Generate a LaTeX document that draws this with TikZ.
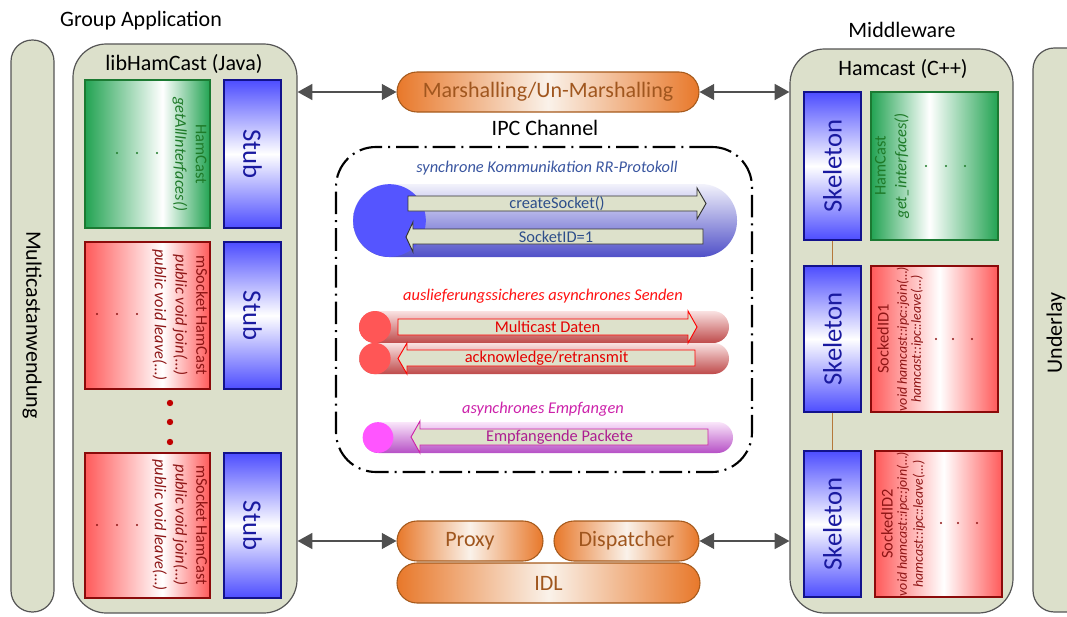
\documentclass[tikz,border=0pt]{standalone}
\usepackage{fontspec}
\setmainfont{Carlito}
\usetikzlibrary{arrows.meta,fit}

% palette
\definecolor{panelfill}{HTML}{DCE0CB}
\definecolor{panelline}{HTML}{555555}
\definecolor{stubblue}{HTML}{4D4DFF}
\definecolor{stubline}{HTML}{12128C}
\definecolor{stubtext}{HTML}{1A1AA0}
\definecolor{grn}{HTML}{22A352}
\definecolor{grnline}{HTML}{1B7A32}
\definecolor{grntext}{HTML}{1E7A28}
\definecolor{rd}{HTML}{FF5A5A}
\definecolor{rdline}{HTML}{8B0A0A}
\definecolor{rdtext}{HTML}{8E1515}
\definecolor{org}{HTML}{E8782A}
\definecolor{orgmid}{HTML}{FAF2EA}
\definecolor{orgline}{HTML}{A65A1C}
\definecolor{orgtext}{HTML}{A0561E}
\definecolor{tipgray}{HTML}{505050}
\definecolor{linkbrown}{HTML}{B5783A}
\definecolor{msgfill}{HTML}{DDE1CB}
\definecolor{syncblue}{HTML}{3A56A0}
\definecolor{msgblue}{HTML}{2D4E8A}
\definecolor{sendred}{HTML}{FF1010}
\definecolor{recvmag}{HTML}{CC22AA}
\definecolor{pilltopblue}{HTML}{F2F2FB}
\definecolor{pillblue}{HTML}{5050C8}
\definecolor{pilltopred}{HTML}{FAE2E2}
\definecolor{pillred}{HTML}{BE4A4A}
\definecolor{pilltopmag}{HTML}{FAE6FA}
\definecolor{pillmag}{HTML}{B650C6}
\definecolor{dotblue}{HTML}{5555FF}
\definecolor{dotred}{HTML}{FF5656}
\definecolor{dotmag}{HTML}{FF55FF}
\definecolor{bulletred}{HTML}{C00000}

% left-right gradients with the light band off centre
\pgfdeclarehorizontalshading{grnL}{100bp}{color(0bp)=(grn); color(25bp)=(grn); color(56bp)=(white); color(75bp)=(grn); color(100bp)=(grn)}
\pgfdeclarehorizontalshading{grnR}{100bp}{color(0bp)=(grn); color(25bp)=(grn); color(48bp)=(white); color(75bp)=(grn); color(100bp)=(grn)}
\pgfdeclarehorizontalshading{rdL}{100bp}{color(0bp)=(rd); color(25bp)=(rd); color(56bp)=(white); color(75bp)=(rd); color(100bp)=(rd)}
\pgfdeclarehorizontalshading{rdR}{100bp}{color(0bp)=(rd); color(25bp)=(rd); color(52bp)=(white); color(75bp)=(rd); color(100bp)=(rd)}

\newcommand\bigsz{\fontsize{16.5}{20}\selectfont}
\newcommand\midsz{\fontsize{12.3}{15.5}\selectfont}
\newcommand\codesz{\fontsize{10.4}{12.5}\selectfont}
\newcommand\stubsz{\fontsize{20}{24}\selectfont}

\tikzset{
  panel/.style={draw=panelline, fill=panelfill, line width=0.9pt, rounded corners=#1, inner sep=0pt},
  stubbox/.style={draw=stubline, line width=0.9pt, top color=stubblue, bottom color=stubblue, middle color=white, inner sep=0pt},
  grnbox/.style={draw=grnline, line width=0.9pt, shading=#1, inner sep=0pt},
  rdbox/.style={draw=rdline, line width=0.9pt, shading=#1, inner sep=0pt},
  stublbl/.style={text=stubtext, font=\stubsz, inner sep=0pt},
  orgpill/.style={draw=orgline, line width=0.8pt, rounded corners=15pt, left color=org, right color=org, middle color=orgmid, inner sep=0pt},
  orglbl/.style={text=orgtext, font=\bigsz, inner sep=0pt},
  chanpill/.style={rounded corners=#1, inner sep=0pt},
  disc/.style={circle, inner sep=0pt, minimum size=#1},
  link/.style={draw=tipgray, line width=0.9pt, {Triangle[length=11pt,width=12pt]}-{Triangle[length=11pt,width=12pt]}},
  brownlink/.style={draw=linkbrown, line width=1.1pt},
  msgarrow/.style={fill=msgfill, draw=#1, line width=0.7pt},
  msglbl/.style={font=\midsz, inner sep=0pt},
  head/.style={font=\midsz\itshape, inner sep=0pt},
}

\begin{document}
\begin{tikzpicture}[x=0.75pt,y=-0.75pt, font=\bigsz]
\useasboundingbox (0,0) rectangle (1067,617);
\clip (0,0) rectangle (1067,617);

% ---------- outer columns ----------
\node[panel=16pt, fit={(11,40) (54,612)}] (app) {};
\node[rotate=-90, inner sep=0pt] (applbl) at (32,325) {Multicastanwendung};
\node[panel=25pt, fit={(73,44) (297,613)}] (lib) {};
\node[panel=26pt, fit={(790,49) (1013,613)}] (ham) {};
\node[panel=16pt, fit={(1033,48) (1096,612)}] (under) {};
\node[rotate=90, inner sep=0pt] (underlbl) at (1056,333) {Underlay};

\node[inner sep=0pt] (grp) at (141,21) {Group Application};
\node[inner sep=0pt] (mid) at (902,30) {Middleware};
\node[inner sep=0pt] (libttl) at (184,64) {libHamCast (Java)};
\node[inner sep=0pt] (hamttl) at (903,69) {Hamcast (C++)};

% ---------- libHamCast (Java) ----------
\node[grnbox=grnL, fit={(85,80) (210,228)}] (ifA) {};
\node[rotate=-90, text=grntext, font=\midsz, align=center, inner sep=0pt] (ifAlbl) at (189.5,154) {HamCast\\\textit{getAllInterfaces()}};
\foreach \x in {117,137,157} \fill[grntext] (\x,153) circle (0.8pt);
\node[stubbox, fit={(224,80) (281,228)}] (stA) {};
\node[stublbl, rotate=-90] (stAlbl) at (stA.center) {Stub};

\node[rdbox=rdL, fit={(85,242) (210,389)}] (msA) {};
\node[rotate=-90, text=rdtext, font=\midsz, align=center, inner sep=0pt] (msAlbl) at (180,315) {mSocket HamCast\\\textit{public void join(…)}\\\textit{public void leave(…)}};
\foreach \x in {97,117,137} \fill[rdtext] (\x,314) circle (0.8pt);
\node[stubbox, fit={(224,242) (281,389)}] (stB) {};
\node[stublbl, rotate=-90] (stBlbl) at (stB.center) {Stub};

\foreach \y in {403,422,442} \fill[bulletred] (170,\y) circle (2.4pt);

\node[rdbox=rdL, fit={(85,453) (210,598)}] (msB) {};
\node[rotate=-90, text=rdtext, font=\midsz, align=center, inner sep=0pt] (msBlbl) at (180,525) {mSocket HamCast\\\textit{public void join(…)}\\\textit{public void leave(…)}};
\foreach \x in {97,117,137} \fill[rdtext] (\x,525) circle (0.8pt);
\node[stubbox, fit={(224,453) (281,598)}] (stC) {};
\node[stublbl, rotate=-90] (stClbl) at (stC.center) {Stub};

% ---------- Hamcast (C++) ----------
\node[stubbox, fit={(804,92) (861,240)}] (skA) {};
\node[stublbl, rotate=90] (skAlbl) at (skA.center) {Skeleton};
\node[grnbox=grnR, fit={(871,92) (998,240)}] (gi) {};
\node[rotate=90, text=grntext, font=\midsz, align=center, inner sep=0pt] (gilbl) at (892,166) {HamCast\\\textit{get\_interfaces()}};
\foreach \x in {926,946,965} \fill[grntext] (\x,166) circle (0.8pt);

\node[stubbox, fit={(804,266) (861,412)}] (skB) {};
\node[stublbl, rotate=90] (skBlbl) at (skB.center) {Skeleton};
\node[rdbox=rdR, fit={(871,266) (998,412)}] (sdA) {};
\node[rotate=90, text=rdtext, font=\midsz, inner sep=0pt] (sdA1) at (883,339) {SockedID1};
\node[rotate=90, text=rdtext, font=\codesz\itshape, inner sep=0pt] (sdA2) at (903,339) {void hamcast::ipc::join(…)};
\node[rotate=90, text=rdtext, font=\codesz\itshape, inner sep=0pt] (sdA3) at (917,339) {hamcast::ipc::leave(…)};
\foreach \x in {936,953,972} \fill[rdtext] (\x,339) circle (0.8pt);

\node[stubbox, fit={(804,451) (861,597)}] (skC) {};
\node[stublbl, rotate=90] (skClbl) at (skC.center) {Skeleton};
\node[rdbox=rdR, fit={(875,451) (1002,597)}] (sdB) {};
\node[rotate=90, text=rdtext, font=\midsz, inner sep=0pt] (sdB1) at (887,524) {SockedID2};
\node[rotate=90, text=rdtext, font=\codesz\itshape, inner sep=0pt] (sdB2) at (903,524) {void hamcast::ipc::join(…)};
\node[rotate=90, text=rdtext, font=\codesz\itshape, inner sep=0pt] (sdB3) at (919,524) {hamcast::ipc::leave(…)};
\foreach \x in {941,958,977} \fill[rdtext] (\x,523) circle (0.8pt);

\draw[brownlink] (skA.south) -- (skB.north);
\draw[brownlink] (skB.south) -- (skC.north);

% ---------- IPC channel ----------
\node[orgpill, fit={(397,72) (699,112)}] (mar) {};
\node[orglbl] (marlbl) at (mar.center) {Marshalling/Un-Marshalling};
\node[inner sep=0pt] (ipcttl) at (545,128) {IPC Channel};

\node[draw, line width=1.6pt, dash pattern=on 17pt off 4.5pt on 1.5pt off 4.5pt,
      rounded corners=30pt, inner sep=0pt, fit={(336,147) (752,472)}] (ipc) {};

% synchronous request/response
\node[head, text=syncblue] (synchd) at (547,168) {synchrone Kommunikation RR-Protokoll};
\node[chanpill=27pt, top color=pilltopblue, bottom color=pillblue, fit={(353,184) (737,257)}] (syncp) {};
\node[disc=54.5pt, fill=dotblue] (syncd) at (389.5,220.5) {};
\filldraw[msgarrow=black!80] (408,196) -- (697,196) -- (697,188) -- (706,203.5) -- (697,219) -- (697,211) -- (408,211) -- cycle;
\node[msglbl, text=msgblue] (create) at (557,203.5) {createSocket()};
\filldraw[msgarrow=black!80] (703,229) -- (413,229) -- (413,222) -- (406,237) -- (413,252) -- (413,244) -- (703,244) -- cycle;
\node[msglbl, text=msgblue] (sockid) at (556,236.5) {SocketID=1};

% reliable asynchronous sending
\node[head, text=sendred] (sendhd) at (543,296) {auslieferungssicheres asynchrones Senden};
\node[chanpill=12pt, top color=pilltopred, bottom color=pillred, fit={(359,311) (729,343)}] (sendp) {};
\node[chanpill=11.6pt, top color=pilltopred, bottom color=pillred, fit={(359,343) (729,374)}] (ackp) {};
\node[disc=24pt, fill=dotred] (sendd) at (375,327) {};
\node[disc=23.5pt, fill=dotred] (ackd) at (375,358.5) {};
\filldraw[msgarrow=red] (398,319) -- (688,319) -- (688,311) -- (697,327) -- (688,343) -- (688,335) -- (398,335) -- cycle;
\node[msglbl, text=red!90!black] (mcast) at (547.5,327) {Multicast Daten};
\filldraw[msgarrow=red] (695,350) -- (407,350) -- (407,343) -- (398,358.5) -- (407,374) -- (407,366) -- (695,366) -- cycle;
\node[msglbl, text=red!90!black] (ack) at (546.5,358) {acknowledge/retransmit};

% asynchronous receiving
\node[head, text=recvmag] (recvhd) at (543,409) {asynchrones Empfangen};
\node[chanpill=11.6pt, top color=pilltopmag, bottom color=pillmag, fit={(363,422) (733,453)}] (recvp) {};
\node[disc=23pt, fill=dotmag] (recvd) at (378,437.5) {};
\filldraw[msgarrow=recvmag] (708,429) -- (420,429) -- (420,421) -- (411,437) -- (420,453) -- (420,445) -- (708,445) -- cycle;
\node[msglbl, text=recvmag!85!black] (recv) at (559.5,437) {Empfangende Packete};

% proxy / dispatcher / IDL
\node[orgpill, fit={(397,521) (543,561)}] (prx) {};
\node[orglbl] (prxlbl) at (prx.center) {Proxy};
\node[orgpill, fit={(554,521) (699,561)}] (dsp) {};
\node[orglbl] (dsplbl) at (dsp.center) {Dispatcher};
\node[orgpill, fit={(397,563) (700,603)}] (idl) {};
\node[orglbl] (idllbl) at (idl.center) {IDL};

% ---------- connectors ----------
\draw[link] (lib.east |- mar.west) -- (mar.west);
\draw[link] (mar.east) -- (mar.east -| ham.west);
\draw[link] (lib.east |- prx.west) -- (prx.west);
\draw[link] (dsp.east) -- (dsp.east -| ham.west);
\end{tikzpicture}
\end{document}
